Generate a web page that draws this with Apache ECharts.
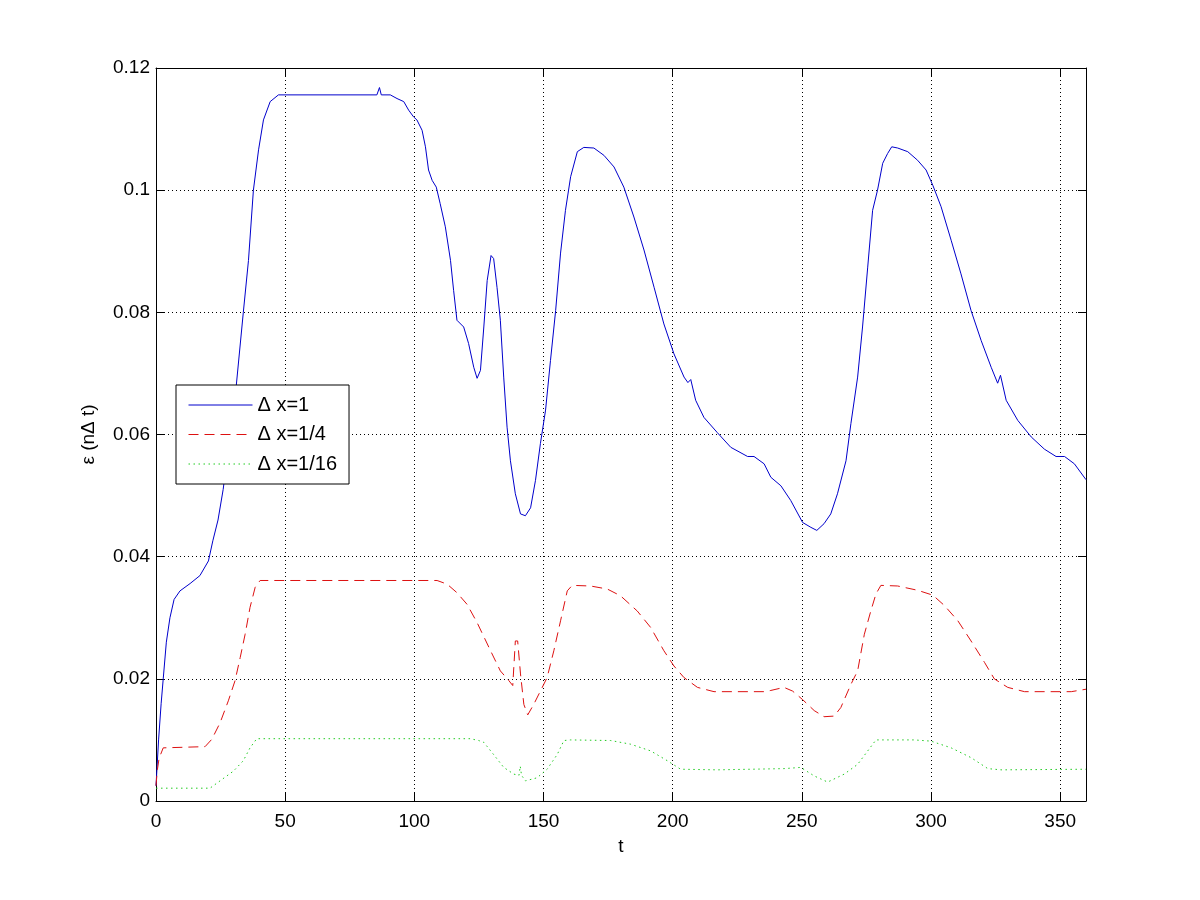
<!DOCTYPE html>
<html>
<head>
<meta charset="utf-8">
<script src="https://cdn.jsdelivr.net/npm/echarts@6/dist/echarts.min.js"></script>
<style>
html,body{margin:0;padding:0;background:#fff;}
#chart{width:1200px;height:900px;}
</style>
</head>
<body>
<div id="chart"></div>
<script>
var seriesNames = ['\u0394 x=1', '\u0394 x=1/4', '\u0394 x=1/16'];
var xTicks = [0, 50, 100, 150, 200, 250, 300, 350];
var yTicks = [0, 0.02, 0.04, 0.06, 0.08, 0.1, 0.12];

var tDx1 = [0,1,2,2.8,4,5.4,7,9.3,13.2,17,20.3,22,24,26,28.7,31,33.8,35.8,37.7,39.7,41.6,44.2,47.4,85.5,86.5,87.2,90.7,93.3,95.9,97.8,99.7,101,103,104.3,105.5,106.9,108.5,110,112,114,115.2,116.5,119.1,121,123,124.3,125.6,126.9,128.2,129.7,130.7,132,133.3,134.6,135.9,137.2,139.1,141.1,143,145,146.9,148.8,150.8,152.7,154.7,156.6,158.5,160.5,163.1,165.6,169.5,173.4,177.3,181.1,185,188.9,192.8,196.6,200.5,204.4,205.9,207,208.9,212.1,217.3,222.5,229,231.5,235.4,238,241.9,245.7,250.3,253.5,255.8,258.6,261.2,263.8,267.1,269,271.6,273.5,275.5,277.4,279.3,281.3,283.2,284.8,287.1,291,294.8,298.1,300.7,303.9,307.8,311.6,315.5,319.4,323.3,325.8,326.9,329.1,333.6,338.8,343.9,348.4,351.7,355.5,360];
var eDx1 = [0.0025,0.010,0.016,0.020,0.026,0.030,0.033,0.0344,0.0356,0.0369,0.0393,0.0426,0.046,0.051,0.060,0.0677,0.080,0.0885,0.100,0.1066,0.1115,0.1145,0.1156,0.1156,0.1168,0.1156,0.1156,0.1150,0.1145,0.1131,0.1120,0.1115,0.1098,0.1071,0.1033,0.1016,0.1005,0.0978,0.0940,0.0885,0.0836,0.0787,0.0776,0.0749,0.0710,0.0692,0.0705,0.0776,0.0852,0.0893,0.0888,0.0841,0.0787,0.0694,0.0612,0.0557,0.0503,0.0470,0.0467,0.0480,0.0525,0.0585,0.0640,0.0721,0.0803,0.0897,0.0967,0.1022,0.1063,0.1070,0.1069,0.1057,0.1038,0.1005,0.0956,0.0902,0.0841,0.0781,0.0732,0.0694,0.0685,0.0690,0.0656,0.0628,0.0603,0.0579,0.0564,0.0564,0.0552,0.0530,0.0516,0.0492,0.0456,0.0448,0.0443,0.0454,0.0470,0.0503,0.0557,0.0618,0.0694,0.0776,0.0874,0.0967,0.1000,0.1044,0.1060,0.1071,0.1069,0.1063,0.1049,0.1033,0.1008,0.0973,0.0918,0.0863,0.0803,0.0754,0.0710,0.0684,0.0697,0.0656,0.0623,0.0596,0.0576,0.0564,0.0564,0.0552,0.0526];

var tDx4 = [0,0.5,1.2,2.8,19,21.6,24.8,28,30.6,32.6,34.5,36.4,38.4,40.3,108.8,112.7,116.5,120.4,124.3,129.5,133.3,136.6,138.1,139.1,140,141.1,142.4,143.9,146.2,148.8,151.4,154,156.6,159.2,161.1,168.2,174.7,179.8,186.3,191.5,196.6,200.5,204.4,209.6,216,235.4,238,243.1,246.4,250.3,254.8,258.6,262.5,265.1,269,271.6,274.2,276.7,278.7,280.6,287.1,294.8,300.7,305.2,310.4,315.5,320.7,324.5,329.7,336.2,354.3,360];
var eDx4 = [0.0025,0.005,0.007,0.0087,0.0089,0.0101,0.0128,0.0164,0.0197,0.0235,0.0273,0.0317,0.0350,0.0361,0.0361,0.0355,0.0341,0.0322,0.0292,0.0246,0.0213,0.0197,0.0189,0.0262,0.0262,0.0208,0.0158,0.0141,0.0158,0.0180,0.0202,0.0246,0.0295,0.0344,0.0353,0.0352,0.0347,0.0336,0.0311,0.0284,0.0246,0.0221,0.0202,0.0186,0.0179,0.0179,0.0181,0.0186,0.0180,0.0166,0.0148,0.0138,0.0139,0.0153,0.0191,0.0213,0.0273,0.0311,0.0339,0.0353,0.0352,0.0345,0.0337,0.0320,0.0295,0.0262,0.0227,0.0200,0.0186,0.0179,0.0179,0.0183];

var tDx16 = [0,20.9,24.8,30,33.8,36.4,39,121.7,124.9,126.9,130.7,134.6,138.5,140.5,141,141.5,143,147.5,151.4,155.3,157.9,160.5,176,183.7,191.5,197.9,203.1,217.3,243.1,249.6,254.8,260,266.4,271.6,275.5,278.7,293.5,300,307.8,315.5,322,327.1,360];
var eDx16 = [0.0021,0.0021,0.0033,0.0049,0.0066,0.0087,0.0102,0.0102,0.0099,0.0096,0.0076,0.0055,0.0044,0.0042,0.0057,0.0042,0.0033,0.0038,0.0052,0.0076,0.0099,0.0100,0.0099,0.0093,0.0082,0.0066,0.0052,0.0051,0.0053,0.0055,0.0041,0.0031,0.0044,0.0060,0.0082,0.0100,0.0100,0.0098,0.0087,0.0071,0.0053,0.0051,0.0052];

function zip(a, b) { return a.map(function (v, i) { return [v, b[i]]; }); }

var FONT = 'Liberation Sans, Arial, sans-serif';
var FS = 19;
var chart = echarts.init(document.getElementById('chart'), null, {renderer: 'canvas'});

var axisLineStyle = {color: '#000', width: 1};
var tickCommon = {show: true, inside: true, length: 8, lineStyle: {color: '#000', width: 1}};

chart.setOption({
  animation: false,
  backgroundColor: '#fff',
  grid: {left: 156, right: 114, top: 68, bottom: 99, containLabel: false},
  legend: {
    orient: 'vertical',
    left: 176, top: 385,
    data: seriesNames,
    backgroundColor: '#fff',
    borderColor: '#000', borderWidth: 1, borderRadius: 0,
    padding: [10, 12, 10, 12],
    itemWidth: 64, itemHeight: 20, itemGap: 9.5,
    itemStyle: {color: 'rgba(0,0,0,0)', borderWidth: 0, opacity: 0},
    lineStyle: {width: 1},
    textStyle: {fontFamily: FONT, fontSize: 20, color: '#000'},
    selectedMode: false
  },
  xAxis: [{
    type: 'value', min: 0, max: 360, interval: 50, position: 'bottom',
    name: 't', nameLocation: 'middle', nameGap: 36,
    nameTextStyle: {fontFamily: FONT, fontSize: FS, color: '#000'},
    axisLine: {show: true, onZero: false, lineStyle: axisLineStyle},
    axisTick: tickCommon,
    axisLabel: {show: true, margin: 11, fontFamily: FONT, fontSize: FS, color: '#000', showMaxLabel: false,
      formatter: function (v) { return xTicks.indexOf(v) >= 0 ? String(v) : ''; }},
    splitLine: {show: true, lineStyle: {color: '#000', width: 1, type: [1, 3]}}
  }, {
    type: 'value', min: 0, max: 360, interval: 50, position: 'top',
    axisLine: {show: true, onZero: false, lineStyle: axisLineStyle},
    axisTick: tickCommon,
    axisLabel: {show: false},
    splitLine: {show: false}
  }],
  yAxis: [{
    type: 'value', min: 0, max: 0.12, interval: 0.02, position: 'left',
    name: '\u03b5 (n\u0394 t)', nameLocation: 'middle', nameGap: 58, nameRotate: 90,
    nameTextStyle: {fontFamily: FONT, fontSize: FS, color: '#000'},
    axisLine: {show: true, onZero: false, lineStyle: axisLineStyle},
    axisTick: tickCommon,
    axisLabel: {show: true, margin: 6, fontFamily: FONT, fontSize: FS, color: '#000',
      formatter: function (v) { var r = Math.round(v * 100) / 100; return yTicks.indexOf(r) >= 0 ? String(r) : ''; }},
    splitLine: {show: true, lineStyle: {color: '#000', width: 1, type: [1, 3]}}
  }, {
    type: 'value', min: 0, max: 0.12, interval: 0.02, position: 'right',
    axisLine: {show: true, onZero: false, lineStyle: axisLineStyle},
    axisTick: tickCommon,
    axisLabel: {show: false},
    splitLine: {show: false}
  }],
  series: [{
    name: seriesNames[0], type: 'line', symbol: 'none', smooth: false,
    data: zip(tDx1, eDx1),
    lineStyle: {color: '#0000cc', width: 1, type: 'solid'},
    itemStyle: {color: '#0000cc'}
  }, {
    name: seriesNames[1], type: 'line', symbol: 'none', smooth: false,
    data: zip(tDx4, eDx4),
    lineStyle: {color: '#dd1111', width: 1, type: [10, 6]},
    itemStyle: {color: '#dd1111'}
  }, {
    name: seriesNames[2], type: 'line', symbol: 'none', smooth: false,
    data: zip(tDx16, eDx16),
    lineStyle: {color: '#22cc22', width: 1, type: [1.5, 3.5]},
    itemStyle: {color: '#22cc22'}
  }]
});
</script>
</body>
</html>
